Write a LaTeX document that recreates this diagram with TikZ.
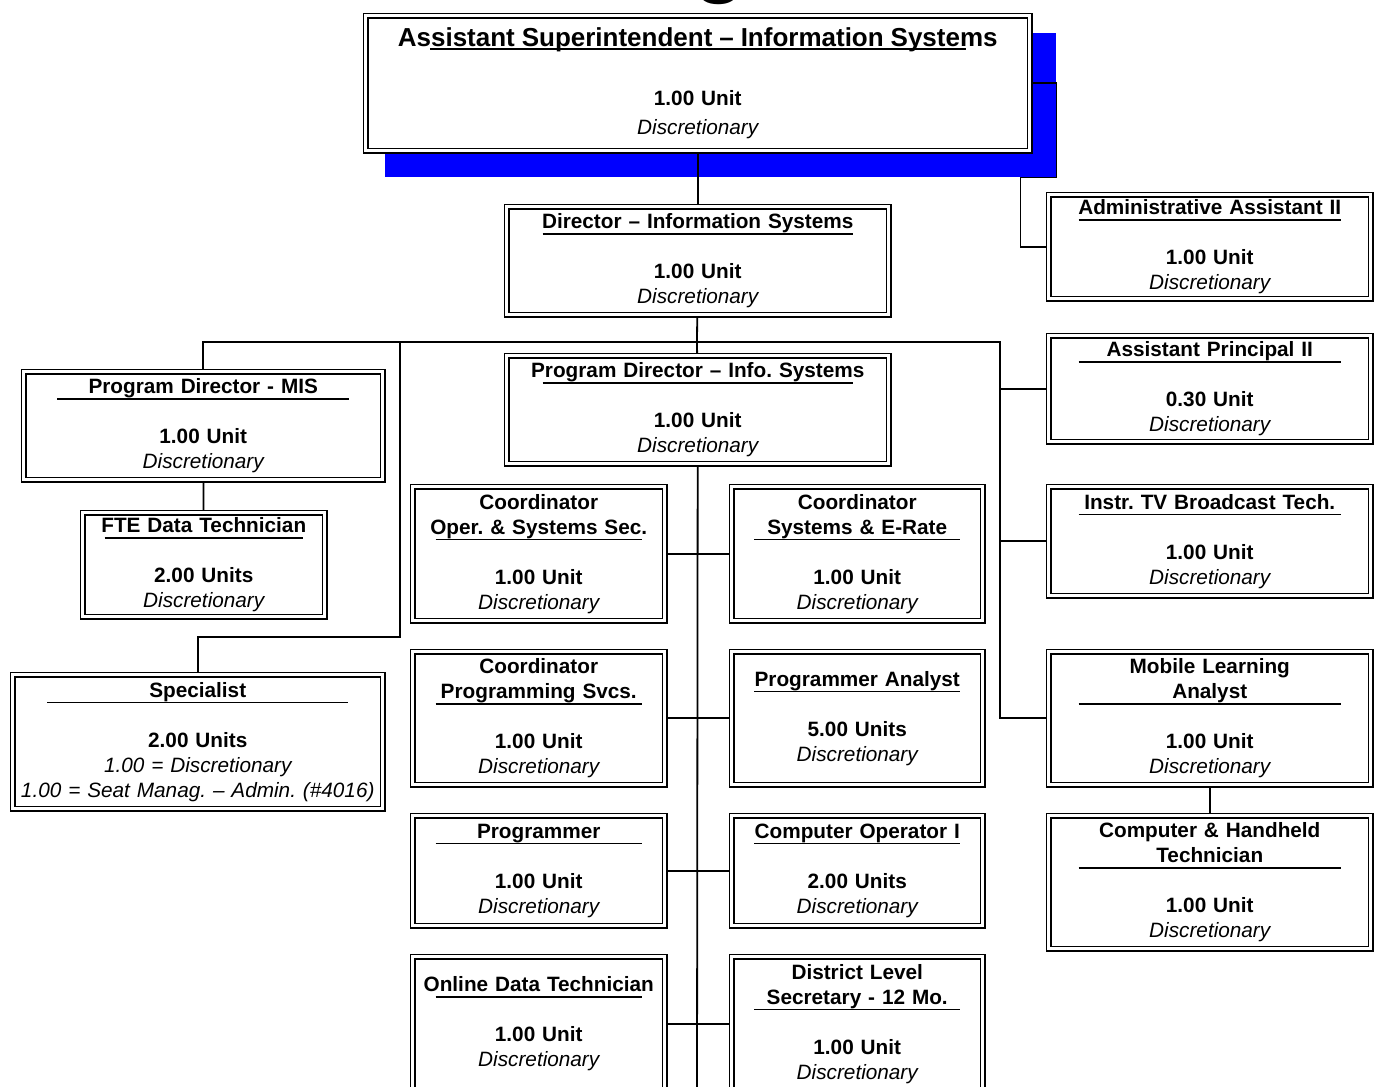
\documentclass[tikz,border=0pt]{standalone}
\usepackage{fontspec}
\setmainfont{Liberation Sans}
\usetikzlibrary{positioning}
\pgfdeclarelayer{shade}
\pgfdeclarelayer{lines}
\pgfsetlayers{shade,lines,main}
\frenchspacing
\tikzset{
  post/.style 2 args={draw=black, line width=1.5pt, double=white, double distance=2.8pt,
                      fill=white, inner sep=0pt, anchor=north west, xshift=2.9pt, yshift=-2.9pt,
                      /utils/exec={\pgfmathsetlengthmacro\rulelen{0.8*#1pt}%
                                   \pgfmathsetlengthmacro\postw{#1pt-14pt}},
                      minimum width=#1pt-5.8pt, minimum height=#2pt-5.8pt,
                      text width=\postw, align=center, font=\fontsize{20.75}{25}\selectfont},
  link/.style={line width=1.8pt},
  shadowbox/.style={fill=blue, inner sep=0pt, anchor=north west},
}
\newcommand{\postinfo}[3]{{\bfseries #1}\\\smash{\rule[19pt]{\rulelen}{1.6pt}}\\{\bfseries #2}\\{\itshape #3}}

\begin{document}
\begin{tikzpicture}[x=1pt, y=-1pt]
  \useasboundingbox (0,0) rectangle (1377,1087);
  % cut-off heading
  \node[font=\fontsize{86}{86}\selectfont\bfseries, anchor=base, inner sep=0pt] (head) at (720,-14) {g};

  \node[post={670}{141}, font=\fontsize{20.75}{29.5}\selectfont] (supt) at (362,12)
    {{\fontsize{26}{29.5}\selectfont\bfseries Assistant Superintendent – Information Systems}\\\smash{\rule[25.75pt]{\rulelen}{1.6pt}}\\{\bfseries 1.00 Unit}\\{\itshape Discretionary}};
  \begin{pgfonlayer}{shade}
    \node[shadowbox, minimum width=671pt, minimum height=144pt] (shdw) at (385,33) {};
  \end{pgfonlayer}

  \node[post={388}{114}] (dir) at (503,203) {\postinfo{Director – Information Systems}{1.00 Unit}{Discretionary}};
  \node[post={328}{110}] (admin) at (1045,191) {\postinfo{Administrative Assistant II}{1.00 Unit}{Discretionary}};

  \node[post={365}{114}] (mis) at (20,368) {\postinfo{Program Director - MIS}{1.00 Unit}{Discretionary}};
  \node[post={248}{110}] (fte) at (79,509) {\postinfo{FTE Data Technician}{2.00 Units}{Discretionary}};
  \node[post={376}{140}] (spec) at (9,671) {\postinfo{Specialist}{2.00 Units}{1.00 = Discretionary\\1.00 = Seat Manag. – Admin. (\#4016)}};

  \node[post={388}{114}] (pdi) at (503,352) {\postinfo{Program Director – Info. Systems}{1.00 Unit}{Discretionary}};
  \node[post={258}{140}] (cos) at (409,483) {\postinfo{Coordinator\\Oper. \& Systems Sec.}{1.00 Unit}{Discretionary}};
  \node[post={257}{140}] (cse) at (728,483) {\postinfo{Coordinator\\Systems \& E-Rate}{1.00 Unit}{Discretionary}};
  \node[post={258}{139}] (cps) at (409,648) {\postinfo{Coordinator\\Programming Svcs.}{1.00 Unit}{Discretionary}};
  \node[post={257}{139}] (pa) at (728,648) {\postinfo{Programmer Analyst}{5.00 Units}{Discretionary}};
  \node[post={258}{116}] (prog) at (409,812) {\postinfo{Programmer}{1.00 Unit}{Discretionary}};
  \node[post={257}{116}] (co) at (728,812) {\postinfo{Computer Operator I}{2.00 Units}{Discretionary}};
  \node[post={258}{140}] (odt) at (409,953) {\postinfo{Online Data Technician}{1.00 Unit}{Discretionary}};
  \node[post={257}{140}] (dls) at (728,953) {\postinfo{District Level\\Secretary - 12 Mo.}{1.00 Unit}{Discretionary}};

  \node[post={328}{112}] (ap) at (1045,332) {\postinfo{Assistant Principal II}{0.30 Unit}{Discretionary}};
  \node[post={328}{115}] (tv) at (1045,483) {\postinfo{Instr. TV Broadcast Tech.}{1.00 Unit}{Discretionary}};
  \node[post={328}{139}] (mob) at (1045,648) {\postinfo{Mobile Learning\\Analyst}{1.00 Unit}{Discretionary}};
  \node[post={328}{139}] (chh) at (1045,812) {\postinfo{Computer \& Handheld\\Technician}{1.00 Unit}{Discretionary}};

  \coordinate (bus) at (697,342);
  \coordinate (ltr) at (400,342);
  \coordinate (lbend) at (400,637);
  \coordinate (rtr) at (1000,342);
  \coordinate (spine) at (697,1100);

  \begin{pgfonlayer}{lines}
    \draw[link] (supt) -- (dir);
    \draw[link] (supt.east) -| (shdw.south east) -- ++(-36,0) |- (admin);
    \draw[link] (dir) -- (bus);
    \draw[link] (mis) |- (bus);
    \draw[link] (bus) -- (pdi);
    \draw[link] (bus) -- (rtr) |- (mob);
    \draw[link] (rtr) |- (ap);
    \draw[link] (rtr) |- (tv);
    \draw[link] (ltr) -- (lbend) -| (spec);
    \draw[link] (mis) -- (fte);
    \draw[link] (mob) -- (chh);
    \draw[link] (pdi) -- (spine);
    \draw[link] (cos) -- (cse);
    \draw[link] (cps) -- (pa);
    \draw[link] (prog) -- (co);
    \draw[link] (odt) -- (dls);
  \end{pgfonlayer}
\end{tikzpicture}
\end{document}
